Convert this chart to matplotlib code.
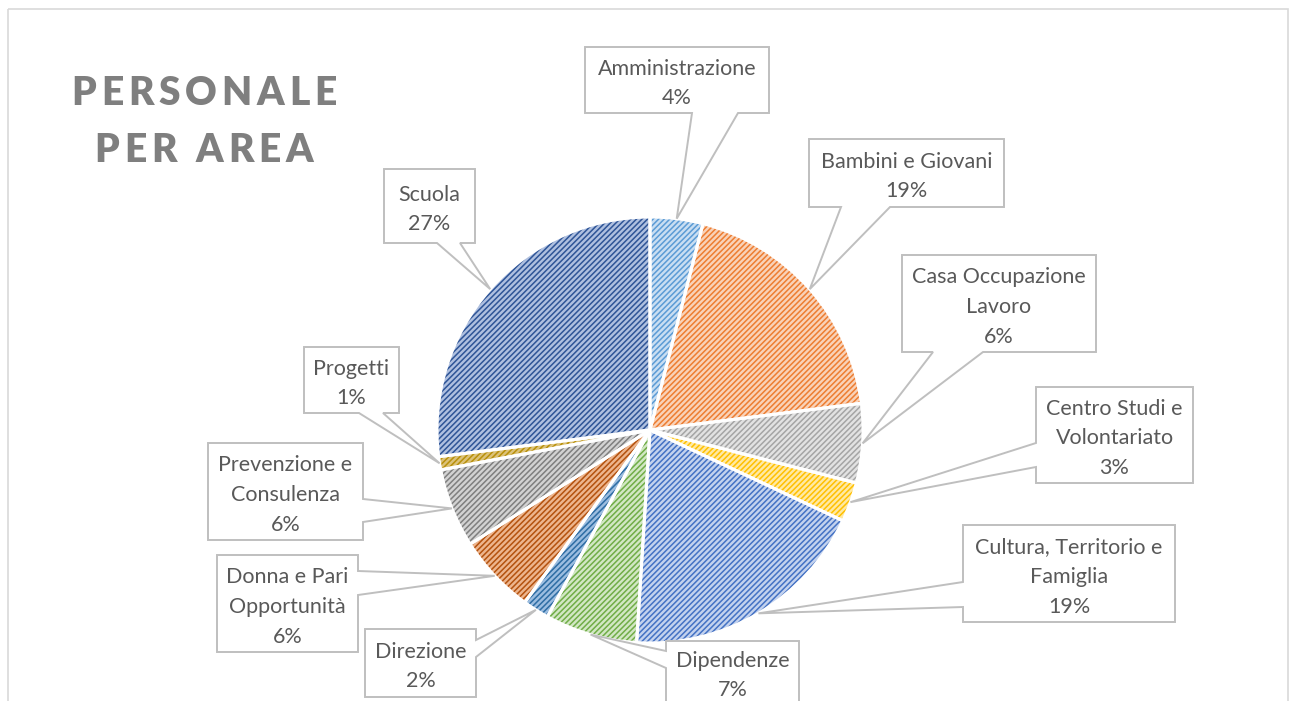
import matplotlib.pyplot as plt
from matplotlib.patches import Polygon, Rectangle
import numpy as np

plt.rcParams["hatch.linewidth"] = 1.1
plt.rcParams["font.family"] = ["Lato", "DejaVu Sans"]

TITLE_LINES = ["PERSONALE", "PER AREA"]

AREAS = [
    "Amministrazione",
    "Bambini e Giovani",
    "Casa Occupazione\nLavoro",
    "Centro Studi e\nVolontariato",
    "Cultura, Territorio e\nFamiglia",
    "Dipendenze",
    "Direzione",
    "Donna e Pari\nOpportunità",
    "Prevenzione e\nConsulenza",
    "Progetti",
    "Scuola",
]
SHARES = [4, 19, 6, 3, 19, 7, 2, 6, 6, 1, 27]

HATCH_COLORS = [
    "#5B9BD5", "#ED7D31", "#A5A5A5", "#FFC000", "#4472C4", "#70AD47",
    "#2E6DA4", "#B4520F", "#7F7F7F", "#B8900A", "#2F5597",
]
FACE_COLORS = [
    "#C9DEF2", "#F9D2B8", "#E2E2E2", "#FFE9A3", "#C3D2EE", "#D2E7C4",
    "#9CBDE0", "#EDB58E", "#D2D2D2", "#DCC27A", "#AFC0E0",
]

# callout boxes in pixel space: (x0, y0, x1, y1), side of the pointer, pointer base span
BOXES = [
    ((585, 47, 769, 113), "bottom", (692, 738)),
    ((809, 139, 1004, 207), "bottom", (841, 890)),
    ((902, 255, 1096, 352), "bottom", (933, 983)),
    ((1036, 387, 1193, 483), "left", (443, 467)),
    ((963, 525, 1175, 622), "left", (582, 607)),
    ((666, 641, 799, 703), "left", (651, 668)),
    ((365, 629, 476, 697), "right", (640, 657)),
    ((217, 555, 358, 652), "right", (571, 595)),
    ((208, 443, 363, 540), "right", (499, 522)),
    ((304, 347, 399, 413), "bottom", (359, 383)),
    ((384, 169, 475, 243), "bottom", (437, 460)),
]

W, H = 1292, 701
CENTER = (650, 430)
RADIUS = 213
GRAY_LINE = "#BFBFBF"
TEXT_COLOR = "#595959"


def callout_vertices(box, side, base, tip):
    x0, y0, x1, y1 = box
    a, b = base
    if side == "bottom":
        return [(x0, y0), (x1, y0), (x1, y1), (b, y1), tip, (a, y1), (x0, y1)]
    if side == "right":
        return [(x0, y0), (x1, y0), (x1, a), tip, (x1, b), (x1, y1), (x0, y1)]
    # left
    return [(x0, y0), (x1, y0), (x1, y1), (x0, y1), (x0, b), tip, (x0, a)]


def char_widths(ax, renderer, text, **kw):
    widths = []
    for ch in text:
        if ch == " ":
            t1 = ax.text(0, 0, "II", **kw)
            t2 = ax.text(0, 0, "I I", **kw)
            widths.append(t2.get_window_extent(renderer).width - t1.get_window_extent(renderer).width)
            t1.remove()
            t2.remove()
        else:
            t = ax.text(0, 0, ch, **kw)
            widths.append(t.get_window_extent(renderer).width)
            t.remove()
    return widths


def spaced_line(ax, renderer, text, x_center, y_base, spacing, **kw):
    widths = char_widths(ax, renderer, text, **kw)
    total = sum(widths) + spacing * (len(text) - 1)
    x = x_center - total / 2
    for ch, w in zip(text, widths):
        if ch != " ":
            ax.text(x, y_base, ch, ha="left", va="baseline", **kw)
        x += w + spacing


def main():
    fig = plt.figure(figsize=(W / 100, H / 100), dpi=100)
    ax = fig.add_axes([0, 0, 1, 1])

    wedges, _ = ax.pie(
        SHARES,
        colors=FACE_COLORS,
        startangle=270,
        counterclock=True,
        center=CENTER,
        radius=RADIUS,
        explode=[0.012] * len(SHARES),
        wedgeprops=dict(linewidth=0),
    )
    for w, hc in zip(wedges, HATCH_COLORS):
        w.set_edgecolor(hc)
        if hasattr(w, "set_hatchcolor"):
            w.set_hatchcolor(hc)
        w.set_hatch("//////")
        w.set_linewidth(0)

    ax.pie(
        SHARES,
        startangle=270,
        counterclock=True,
        center=CENTER,
        radius=RADIUS,
        explode=[0.012] * len(SHARES),
        wedgeprops=dict(facecolor="none", edgecolor="white", linewidth=2.2),
    )

    ax.set_xlim(0, W)
    ax.set_ylim(H, 0)
    ax.set_aspect("auto")
    ax.axis("off")

    # outer chart frame
    ax.add_patch(Rectangle((8, 9), 1280, 720, fill=False, edgecolor="#D9D9D9", linewidth=1.2, zorder=1))

    for w, label, share, (box, side, base) in zip(wedges, AREAS, SHARES, BOXES):
        mid = np.deg2rad((w.theta1 + w.theta2) / 2)
        cx, cy = w.center
        tip = (cx + w.r * np.cos(mid), cy + w.r * np.sin(mid))
        poly = Polygon(callout_vertices(box, side, base, tip), closed=True,
                       facecolor="white", edgecolor=GRAY_LINE, linewidth=1.4, zorder=4)
        ax.add_patch(poly)
        x0, y0, x1, y1 = box
        ax.text((x0 + x1) / 2, (y0 + y1) / 2 + 3.5, f"{label}\n{share}%", ha="center", va="center",
                fontsize=15.5, color=TEXT_COLOR, linespacing=1.62, zorder=5)

    renderer = fig.canvas.get_renderer()
    title_kw = dict(fontsize=28, fontweight="heavy", color="#7F7F7F")
    widths = char_widths(ax, renderer, TITLE_LINES[0], **title_kw)
    spacing = (265 - sum(widths)) / (len(TITLE_LINES[0]) - 1)
    spaced_line(ax, renderer, TITLE_LINES[0], 204, 105, spacing, **title_kw)
    spaced_line(ax, renderer, TITLE_LINES[1], 204, 162, spacing, **title_kw)

    fig.savefig("out.png", dpi=100)
    plt.close(fig)


if __name__ == "__main__":
    main()
